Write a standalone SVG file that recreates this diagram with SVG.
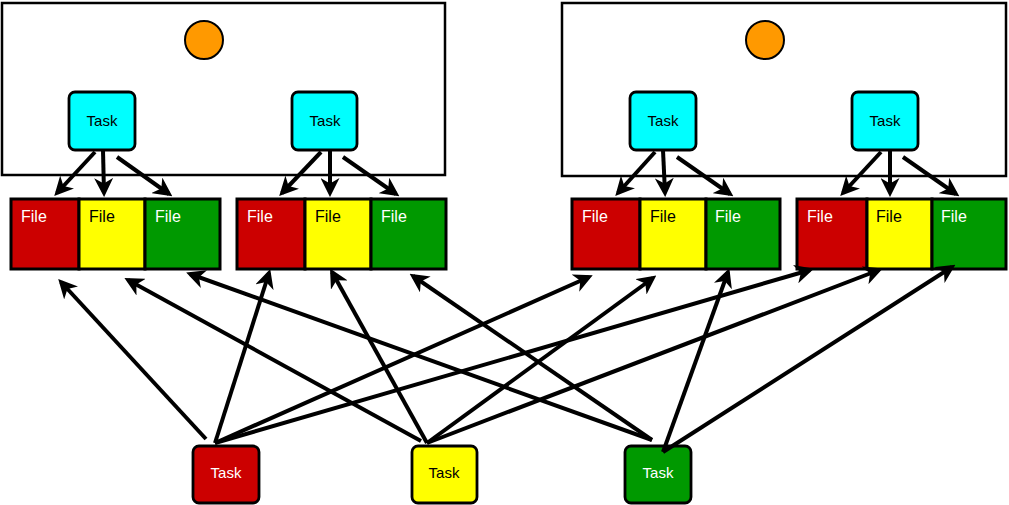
<svg xmlns="http://www.w3.org/2000/svg" width="1009" height="505" viewBox="0 0 1009 505">
  <style>
    .frame { fill: #ffffff; stroke: #000000; stroke-width: 2.5; }
    .dot { fill: #ff9900; stroke: #000000; stroke-width: 2; }
    .task { stroke: #000000; stroke-width: 2.8; }
    .cyan { fill: #00ffff; }
    .red { fill: #cc0000; }
    .yellow { fill: #ffff00; }
    .green { fill: #009900; }
    .cell { stroke: #000000; stroke-width: 3; }
    .lbl { font-family: "Liberation Sans", Arial, sans-serif; font-size: 16px; }
    .tl { font-family: "Liberation Sans", Arial, sans-serif; font-size: 15px; text-anchor: middle; }
    .w { fill: #ffffff; }
    .k { fill: #000000; }
    .edge { stroke: #000000; stroke-width: 4; fill: none; marker-end: url(#head); }
  </style>
  <defs>
    <marker id="head" viewBox="0 0 14 14" markerUnits="userSpaceOnUse" markerWidth="19" markerHeight="19" refX="11" refY="7" orient="auto">
      <path d="M0,0 L14,7 L0,14 L4,7 Z" fill="#000000"/>
    </marker>
  </defs>

  <!-- containers -->
  <g id="container-left">
    <rect class="frame" x="2" y="3" width="443" height="172"/>
    <circle class="dot" cx="204" cy="40" r="19"/>
  </g>
  <g id="container-right">
    <rect class="frame" x="562" y="3" width="444" height="173"/>
    <circle class="dot" cx="765" cy="40" r="19"/>
  </g>

  <!-- worker tasks -->
  <g id="task-c1"><rect class="task cyan" x="69" y="92" width="66" height="58" rx="6"/><text class="tl k" x="102" y="126">Task</text></g>
  <g id="task-c2"><rect class="task cyan" x="292" y="92" width="65" height="58" rx="6"/><text class="tl k" x="325" y="126">Task</text></g>
  <g id="task-c3"><rect class="task cyan" x="630" y="92" width="66" height="58" rx="6"/><text class="tl k" x="663" y="126">Task</text></g>
  <g id="task-c4"><rect class="task cyan" x="852" y="92" width="66" height="58" rx="6"/><text class="tl k" x="885" y="126">Task</text></g>

  <!-- file groups -->
  <g id="files-1">
    <rect class="cell red" x="11" y="199" width="68" height="70"/><text class="lbl w" x="21" y="222">File</text>
    <rect class="cell yellow" x="79" y="199" width="66" height="70"/><text class="lbl k" x="89" y="222">File</text>
    <rect class="cell green" x="145" y="199" width="75" height="70"/><text class="lbl w" x="155" y="222">File</text>
  </g>
  <g id="files-2">
    <rect class="cell red" x="237" y="199" width="68" height="70"/><text class="lbl w" x="247" y="222">File</text>
    <rect class="cell yellow" x="305" y="199" width="66" height="70"/><text class="lbl k" x="315" y="222">File</text>
    <rect class="cell green" x="371" y="199" width="75" height="70"/><text class="lbl w" x="381" y="222">File</text>
  </g>
  <g id="files-3">
    <rect class="cell red" x="572" y="199" width="68" height="70"/><text class="lbl w" x="582" y="222">File</text>
    <rect class="cell yellow" x="640" y="199" width="66" height="70"/><text class="lbl k" x="650" y="222">File</text>
    <rect class="cell green" x="706" y="199" width="74" height="70"/><text class="lbl w" x="715" y="222">File</text>
  </g>
  <g id="files-4">
    <rect class="cell red" x="797" y="199" width="70" height="70"/><text class="lbl w" x="807" y="222">File</text>
    <rect class="cell yellow" x="867" y="199" width="65" height="70"/><text class="lbl k" x="876" y="222">File</text>
    <rect class="cell green" x="932" y="199" width="74" height="70"/><text class="lbl w" x="941" y="222">File</text>
  </g>

  <!-- reader tasks -->
  <g id="task-red"><rect class="task red" x="193" y="446" width="66" height="57" rx="6"/><text class="tl w" x="226" y="478">Task</text></g>
  <g id="task-yellow"><rect class="task yellow" x="412" y="446" width="65" height="57" rx="6"/><text class="tl k" x="444" y="478">Task</text></g>
  <g id="task-green"><rect class="task green" x="625" y="446" width="66" height="57" rx="6"/><text class="tl w" x="658" y="478">Task</text></g>

  <!-- connectors -->
  <g id="connectors">
    <line class="edge" x1="95" y1="152" x2="57" y2="193"/>
    <line class="edge" x1="103" y1="150" x2="104" y2="193"/>
    <line class="edge" x1="117" y1="157" x2="169" y2="194"/>
    <line class="edge" x1="321" y1="152" x2="282" y2="193"/>
    <line class="edge" x1="330" y1="150" x2="330" y2="193"/>
    <line class="edge" x1="343" y1="157" x2="396" y2="194"/>
    <line class="edge" x1="655" y1="152" x2="618" y2="193"/>
    <line class="edge" x1="663" y1="150" x2="665" y2="193"/>
    <line class="edge" x1="677" y1="157" x2="730" y2="194"/>
    <line class="edge" x1="881" y1="152" x2="843" y2="193"/>
    <line class="edge" x1="890" y1="150" x2="890" y2="193"/>
    <line class="edge" x1="903" y1="157" x2="956" y2="194"/>

    <line class="edge" x1="206" y1="439" x2="61" y2="282"/>
    <line class="edge" x1="215" y1="443" x2="269" y2="273"/>
    <line class="edge" x1="215" y1="443" x2="589" y2="277"/>
    <line class="edge" x1="215" y1="443" x2="810" y2="270"/>

    <line class="edge" x1="421" y1="441" x2="128" y2="280"/>
    <line class="edge" x1="427" y1="443" x2="332" y2="272"/>
    <line class="edge" x1="427" y1="443" x2="653" y2="278"/>
    <line class="edge" x1="427" y1="443" x2="879" y2="270"/>

    <line class="edge" x1="652" y1="440" x2="190" y2="274"/>
    <line class="edge" x1="652" y1="440" x2="413" y2="276"/>
    <line class="edge" x1="663" y1="452" x2="728" y2="272"/>
    <line class="edge" x1="663" y1="452" x2="952" y2="267"/>
  </g>
</svg>
